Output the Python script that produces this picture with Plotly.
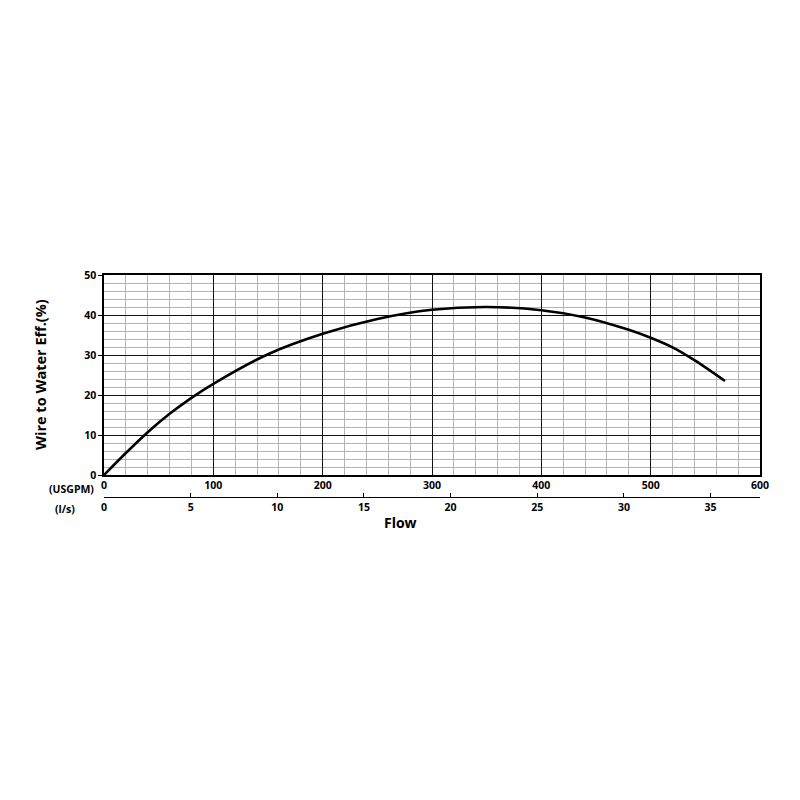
import plotly.graph_objects as go

# pump curve (flow in USGPM, efficiency in %)
flow_usgpm = [0, 20, 40, 60, 80, 100, 150, 200, 250, 300, 350, 400, 440, 480, 500, 520, 540, 568]
efficiency = [0, 5.5, 10.7, 15.3, 19.3, 22.8, 30.2, 35.3, 39, 41.3, 42, 41.2, 39.4, 36.3, 34.3, 31.9, 28.7, 23.5]

usgpm_ticks = [0, 100, 200, 300, 400, 500, 600]
ls_ticks = [0, 5, 10, 15, 20, 25, 30, 35]
eff_ticks = [0, 10, 20, 30, 40, 50]

GPM_PER_LS = 15.850

font_main = "Open Sans"
# page has an 8px body margin, so everything is placed 8px up/left
OFF = 8
L, R, T, B = 104 - OFF, 40 + OFF, 275 - OFF, 303 + OFF

fig = go.Figure()
fig.add_trace(go.Scatter(
    x=flow_usgpm, y=efficiency, mode="lines",
    line=dict(color="black", width=2.6, shape="spline", smoothing=0.8),
    showlegend=False, hoverinfo="skip",
))
# invisible trace so the l/s axis gets drawn
fig.add_trace(go.Scatter(x=[0], y=[0], xaxis="x2", mode="markers",
                         marker=dict(opacity=0), showlegend=False, hoverinfo="skip"))

tick_font = dict(size=10.5, family=font_main, weight="bold")

fig.update_layout(
    width=800, height=800,
    paper_bgcolor="white", plot_bgcolor="white",
    margin=dict(l=L, r=R, t=T, b=B, autoexpand=False),
    font=dict(family=font_main, color="black"),
    xaxis=dict(
        range=[0, 600], tickvals=usgpm_ticks, showgrid=True, gridcolor="#111111", gridwidth=1.2,
        minor=dict(dtick=20, showgrid=True, gridcolor="#b4b4b4", gridwidth=1),
        showline=True, linecolor="black", linewidth=1.5, mirror=True,
        ticks="", tickfont=tick_font, automargin=False,
        zeroline=False, anchor="y", fixedrange=True,
    ),
    xaxis2=dict(
        range=[0, 600 / GPM_PER_LS], tickvals=ls_ticks, overlaying="x",
        anchor="free", position=0, side="bottom",
        showgrid=False, showline=True, linecolor="black", linewidth=1,
        ticks="inside", ticklen=4, tickcolor="black",
        tickfont=tick_font, automargin=False,
        zeroline=False, fixedrange=True,
    ),
    yaxis=dict(
        range=[0, 50], tickvals=eff_ticks, domain=[0.099, 1],
        showgrid=True, gridcolor="#111111", gridwidth=1.2,
        minor=dict(dtick=2, showgrid=True, gridcolor="#b4b4b4", gridwidth=1),
        showline=True, linecolor="black", linewidth=1.5, mirror=True,
        ticks="outside", ticklen=4, tickcolor="black",
        tickfont=tick_font, automargin=False,
        zeroline=False, fixedrange=True,
    ),
)

# text labels, placed by pixel position as seen on the page
labels = [
    ("(USGPM)", 71, 489, 10.5, 0),
    ("(l/s)", 65, 509, 10.5, 0),
    ("Flow", 400, 522, 14, 0),
    ("Wire to Water Eff.(%)", 40, 375, 14.5, -90),
]
plot_w = 800 - L - R
plot_h = 800 - T - B
anns = []
for text, px, py, size, angle in labels:
    anns.append(dict(
        text=text, showarrow=False, xref="paper", yref="paper",
        x=(px - OFF - L) / plot_w, y=(800 - B - (py - OFF)) / plot_h,
        xanchor="center", yanchor="middle", textangle=angle,
        font=dict(size=size, family=font_main, weight="bold"),
    ))
fig.update_layout(annotations=anns)

fig.write_html("out.html")
